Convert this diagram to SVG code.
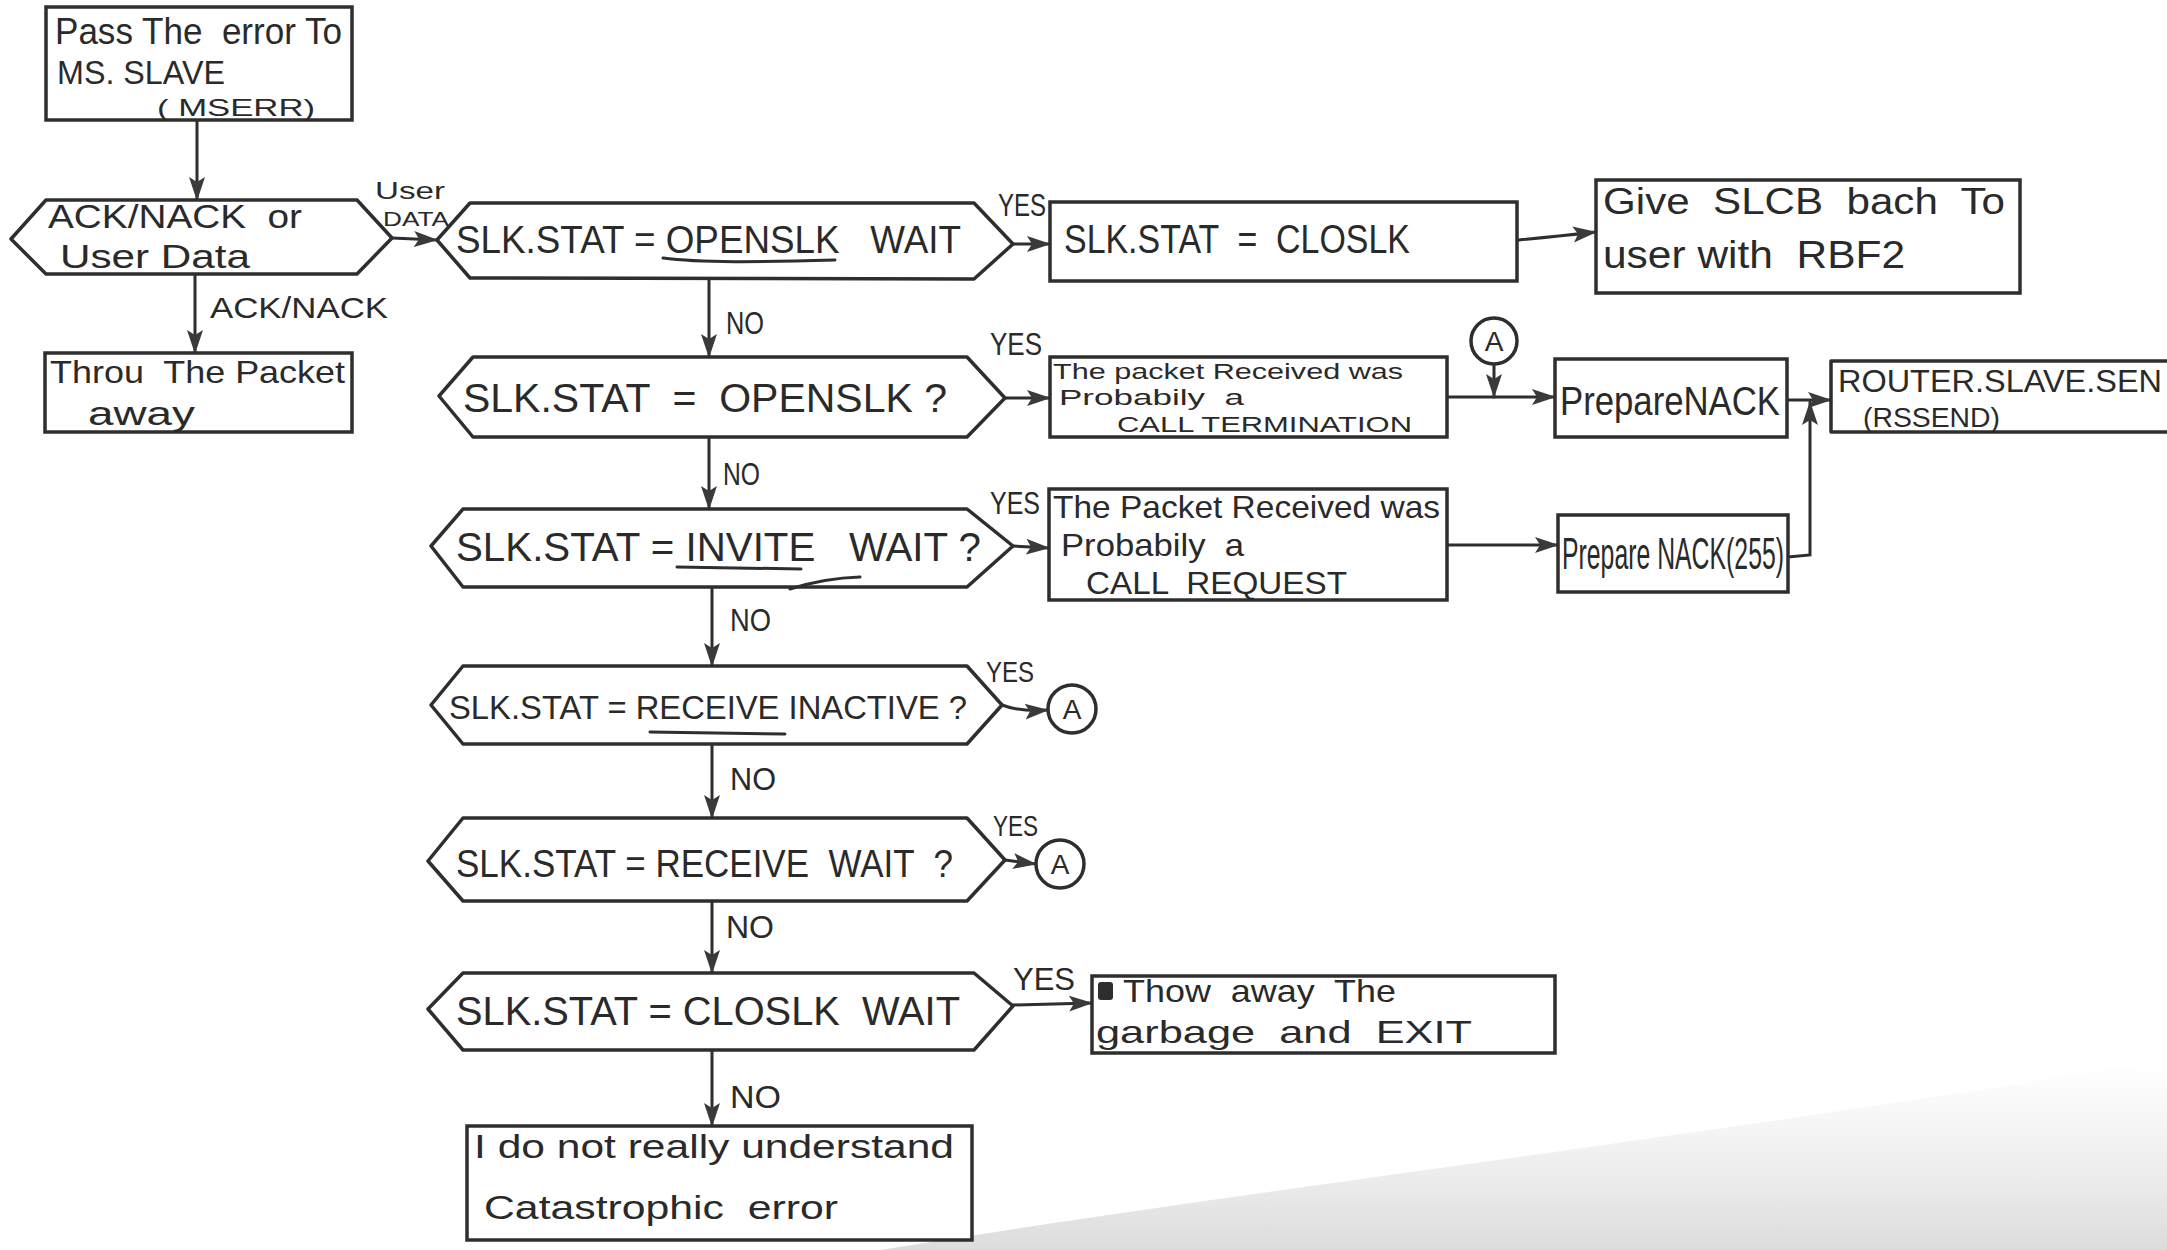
<svg xmlns="http://www.w3.org/2000/svg" width="2167" height="1250" viewBox="0 0 2167 1250">
<defs>
<style>
.shape{fill:none;stroke:#2e2e2e;stroke-width:3.5;stroke-linejoin:round;stroke-linecap:round}
.hex{fill:#ffffff;stroke:#2e2e2e;stroke-width:3.5;stroke-linejoin:round}
.box{fill:#ffffff;stroke:#2e2e2e;stroke-width:3.5}
.conn{fill:none;stroke:#2e2e2e;stroke-width:3;stroke-linecap:round}
.ul{fill:none;stroke:#2e2e2e;stroke-width:3;stroke-linecap:round}
text{font-family:"Liberation Sans","DejaVu Sans",sans-serif;fill:#2a2a2a;white-space:pre}
.lbl{font-size:32px}
.t40{font-size:40px}
.t34{font-size:34px}
.t30{font-size:30px}
.t22{font-size:22px}
</style>
<marker id="arr" markerUnits="userSpaceOnUse" markerWidth="24" markerHeight="18" viewBox="0 0 24 18" refX="23" refY="9" orient="auto">
<path d="M0,1 L24,9 L0,17 L5,9 z" fill="#3a3a3a"/>
</marker>
<linearGradient id="paper" x1="0" y1="0" x2="0" y2="1">
<stop offset="0" stop-color="#e4e4e4" stop-opacity="0"/>
<stop offset="1" stop-color="#d8d8d8" stop-opacity="0.9"/>
</linearGradient>
</defs>
<rect x="0" y="0" width="2167" height="1250" fill="#ffffff"/>
<path d="M880,1250 C1250,1190 1750,1130 2167,1060 L2167,1250 Z" fill="url(#paper)"/>

<g id="connectors">
<path class="conn" d="M197,120 L197,200" marker-end="url(#arr)"/>
<path class="conn" d="M195,274 L195,353" marker-end="url(#arr)"/>
<path class="conn" d="M392,238 L437,240" marker-end="url(#arr)"/>
<path class="conn" d="M1013,244 L1050,244" marker-end="url(#arr)"/>
<path class="conn" d="M1519,240 Q1560,236 1596,232" marker-end="url(#arr)"/>
<path class="conn" d="M709,279 L709,357" marker-end="url(#arr)"/>
<path class="conn" d="M1005,398 L1050,398" marker-end="url(#arr)"/>
<path class="conn" d="M1447,397 L1555,397" marker-end="url(#arr)"/>
<path class="conn" d="M1494,364 L1494,397" marker-end="url(#arr)"/>
<path class="conn" d="M1787,400 L1831,400" marker-end="url(#arr)"/>
<path class="conn" d="M709,437 L709,509" marker-end="url(#arr)"/>
<path class="conn" d="M1013,546 L1049,548" marker-end="url(#arr)"/>
<path class="conn" d="M1447,545 L1558,545" marker-end="url(#arr)"/>
<path class="conn" d="M1788,557 L1810,555 L1810,402" marker-end="url(#arr)"/>
<path class="conn" d="M712,587 L712,666" marker-end="url(#arr)"/>
<path class="conn" d="M1002,705 Q1020,712 1048,710" marker-end="url(#arr)"/>
<path class="conn" d="M712,744 L712,818" marker-end="url(#arr)"/>
<path class="conn" d="M1005,860 L1036,864" marker-end="url(#arr)"/>
<path class="conn" d="M712,901 L712,973" marker-end="url(#arr)"/>
<path class="conn" d="M1013,1005 L1092,1003" marker-end="url(#arr)"/>
<path class="conn" d="M712,1050 L712,1126" marker-end="url(#arr)"/>
<text class="t30" x="210" y="318" textLength="178" lengthAdjust="spacingAndGlyphs">ACK/NACK</text>
<text font-size="24" x="375" y="199" textLength="70" lengthAdjust="spacingAndGlyphs">User</text>
<text font-size="21" x="383" y="226" textLength="66" lengthAdjust="spacingAndGlyphs">DATA</text>
<text class="lbl" x="998" y="216" textLength="48" lengthAdjust="spacingAndGlyphs">YES</text>
<text class="lbl" x="726" y="334" textLength="38" lengthAdjust="spacingAndGlyphs">NO</text>
<text class="lbl" x="990" y="355" textLength="52" lengthAdjust="spacingAndGlyphs">YES</text>
<text class="lbl" x="723" y="485" textLength="37" lengthAdjust="spacingAndGlyphs">NO</text>
<text class="lbl" x="990" y="514" textLength="50" lengthAdjust="spacingAndGlyphs">YES</text>
<text class="lbl" x="730" y="631" textLength="41" lengthAdjust="spacingAndGlyphs">NO</text>
<text font-size="30" x="986" y="682" textLength="48" lengthAdjust="spacingAndGlyphs">YES</text>
<text class="lbl" x="730" y="790" textLength="46" lengthAdjust="spacingAndGlyphs">NO</text>
<text font-size="30" x="993" y="836" textLength="45" lengthAdjust="spacingAndGlyphs">YES</text>
<text class="lbl" x="726" y="938" textLength="48" lengthAdjust="spacingAndGlyphs">NO</text>
<text class="lbl" x="1013" y="990" textLength="62" lengthAdjust="spacingAndGlyphs">YES</text>
<text class="lbl" x="730" y="1108" textLength="51" lengthAdjust="spacingAndGlyphs">NO</text>
</g>

<g id="pass-error">
<rect class="box" x="46" y="7" width="306" height="113"/>
<text font-size="36" x="55" y="44" textLength="287" lengthAdjust="spacingAndGlyphs">Pass The  error To</text>
<text font-size="33" x="57" y="84" textLength="168" lengthAdjust="spacingAndGlyphs">MS. SLAVE</text>
<text font-size="24" x="157" y="116" textLength="158" lengthAdjust="spacingAndGlyphs">( MSERR)</text>
</g>

<g id="ack-or-data">
<polygon class="hex" points="11,239 46,200 357,200 392,238 357,274 46,274"/>
<text font-size="33" x="48" y="228" textLength="254" lengthAdjust="spacingAndGlyphs">ACK/NACK  or</text>
<text font-size="33" x="60" y="268" textLength="190" lengthAdjust="spacingAndGlyphs">User Data</text>
</g>

<g id="throw-packet">
<rect class="box" x="45" y="353" width="307" height="79"/>
<text font-size="32" x="50" y="383" textLength="295" lengthAdjust="spacingAndGlyphs">Throu  The Packet</text>
<text font-size="34" x="88" y="425" textLength="107" lengthAdjust="spacingAndGlyphs">away</text>
</g>

<g id="d-openslk-wait">
<polygon class="hex" points="437,240 470,203 974,203 1013,244 974,279 470,278"/>
<text font-size="38" x="456" y="253" textLength="505" lengthAdjust="spacingAndGlyphs">SLK.STAT = OPENSLK   WAIT</text>
<path class="ul" d="M663,258 C700,263 760,262 835,260"/>
</g>

<g id="set-closlk">
<rect class="box" x="1050" y="202" width="467" height="79"/>
<text class="t40" x="1064" y="253" textLength="346" lengthAdjust="spacingAndGlyphs">SLK.STAT  =  CLOSLK</text>
</g>

<g id="give-slcb">
<rect class="box" x="1596" y="180" width="424" height="113"/>
<text font-size="36" x="1603" y="214" textLength="402" lengthAdjust="spacingAndGlyphs">Give  SLCB  bach  To</text>
<text font-size="38" x="1603" y="268" textLength="302" lengthAdjust="spacingAndGlyphs">user with  RBF2</text>
</g>

<g id="d-openslk">
<polygon class="hex" points="439,396 473,357 967,357 1005,398 967,437 473,437"/>
<text class="t40" x="463" y="412" textLength="484" lengthAdjust="spacingAndGlyphs">SLK.STAT  =  OPENSLK ?</text>
</g>

<g id="call-termination">
<rect class="box" x="1050" y="357" width="397" height="80"/>
<text class="t22" x="1053" y="379" textLength="350" lengthAdjust="spacingAndGlyphs">The packet Received was</text>
<text class="t22" x="1059" y="405" textLength="185" lengthAdjust="spacingAndGlyphs">Probabily  a</text>
<text class="t22" x="1117" y="432" textLength="295" lengthAdjust="spacingAndGlyphs">CALL TERMINATION</text>
</g>

<g id="connector-a1">
<circle class="box" cx="1494" cy="341" r="23"/>
<text font-size="28" x="1494" y="351" text-anchor="middle">A</text>
</g>

<g id="prepare-nack">
<rect class="box" x="1555" y="359" width="232" height="78"/>
<text class="t40" x="1560" y="415" textLength="220" lengthAdjust="spacingAndGlyphs">PrepareNACK</text>
</g>

<g id="router-slave-send">
<path class="shape" d="M2180,361 L1831,361 L1831,432 L2180,432"/>
<text font-size="32" x="1838" y="392" textLength="324" lengthAdjust="spacingAndGlyphs">ROUTER.SLAVE.SEN</text>
<text font-size="28" x="1863" y="427" textLength="137" lengthAdjust="spacingAndGlyphs">(RSSEND)</text>
</g>

<g id="d-invite-wait">
<polygon class="hex" points="431,546 463,509 967,509 1013,546 967,587 463,587"/>
<text class="t40" x="456" y="561" textLength="525" lengthAdjust="spacingAndGlyphs">SLK.STAT = INVITE   WAIT ?</text>
<path class="ul" d="M677,567 L801,569"/>
<path class="ul" d="M790,589 Q825,578 860,577"/>
</g>

<g id="call-request">
<rect class="box" x="1049" y="489" width="398" height="111"/>
<text font-size="32" x="1053" y="518" textLength="387" lengthAdjust="spacingAndGlyphs">The Packet Received was</text>
<text font-size="32" x="1061" y="556" textLength="183" lengthAdjust="spacingAndGlyphs">Probabily  a</text>
<text font-size="32" x="1086" y="594" textLength="261" lengthAdjust="spacingAndGlyphs">CALL  REQUEST</text>
</g>

<g id="prepare-nack-255">
<rect class="box" x="1558" y="515" width="230" height="77"/>
<text font-size="44" x="1562" y="569" textLength="222" lengthAdjust="spacingAndGlyphs">Prepare NACK(255)</text>
</g>

<g id="d-receive-inactive">
<polygon class="hex" points="431,705 463,666 967,666 1002,705 967,744 463,744"/>
<text font-size="34" x="449" y="719" textLength="518" lengthAdjust="spacingAndGlyphs">SLK.STAT = RECEIVE INACTIVE ?</text>
<path class="ul" d="M650,732 L785,734"/>
</g>

<g id="connector-a2">
<circle class="box" cx="1072" cy="709" r="24"/>
<text font-size="28" x="1072" y="719" text-anchor="middle">A</text>
</g>

<g id="d-receive-wait">
<polygon class="hex" points="428,861 463,818 967,818 1005,860 967,901 463,901"/>
<text font-size="38" x="456" y="877" textLength="497" lengthAdjust="spacingAndGlyphs">SLK.STAT = RECEIVE  WAIT  ?</text>
</g>

<g id="connector-a3">
<circle class="box" cx="1060" cy="864" r="24"/>
<text font-size="28" x="1060" y="874" text-anchor="middle">A</text>
</g>

<g id="d-closlk-wait">
<polygon class="hex" points="428,1009 463,973 974,973 1013,1006 974,1050 463,1050"/>
<text class="t40" x="456" y="1025" textLength="504" lengthAdjust="spacingAndGlyphs">SLK.STAT = CLOSLK  WAIT</text>
</g>

<g id="throw-garbage">
<rect class="box" x="1092" y="976" width="463" height="77"/>
<rect x="1098" y="982" width="15" height="18" rx="3" fill="#2e2e2e"/>
<text font-size="32" x="1123" y="1002" textLength="273" lengthAdjust="spacingAndGlyphs">Thow  away  The</text>
<text font-size="32" x="1096" y="1043" textLength="376" lengthAdjust="spacingAndGlyphs">garbage  and  EXIT</text>
</g>

<g id="catastrophic">
<rect class="box" x="467" y="1126" width="505" height="114"/>
<text class="t34" x="474" y="1158" textLength="480" lengthAdjust="spacingAndGlyphs">I do not really understand</text>
<text class="t34" x="484" y="1219" textLength="354" lengthAdjust="spacingAndGlyphs">Catastrophic  error</text>
</g>
</svg>
